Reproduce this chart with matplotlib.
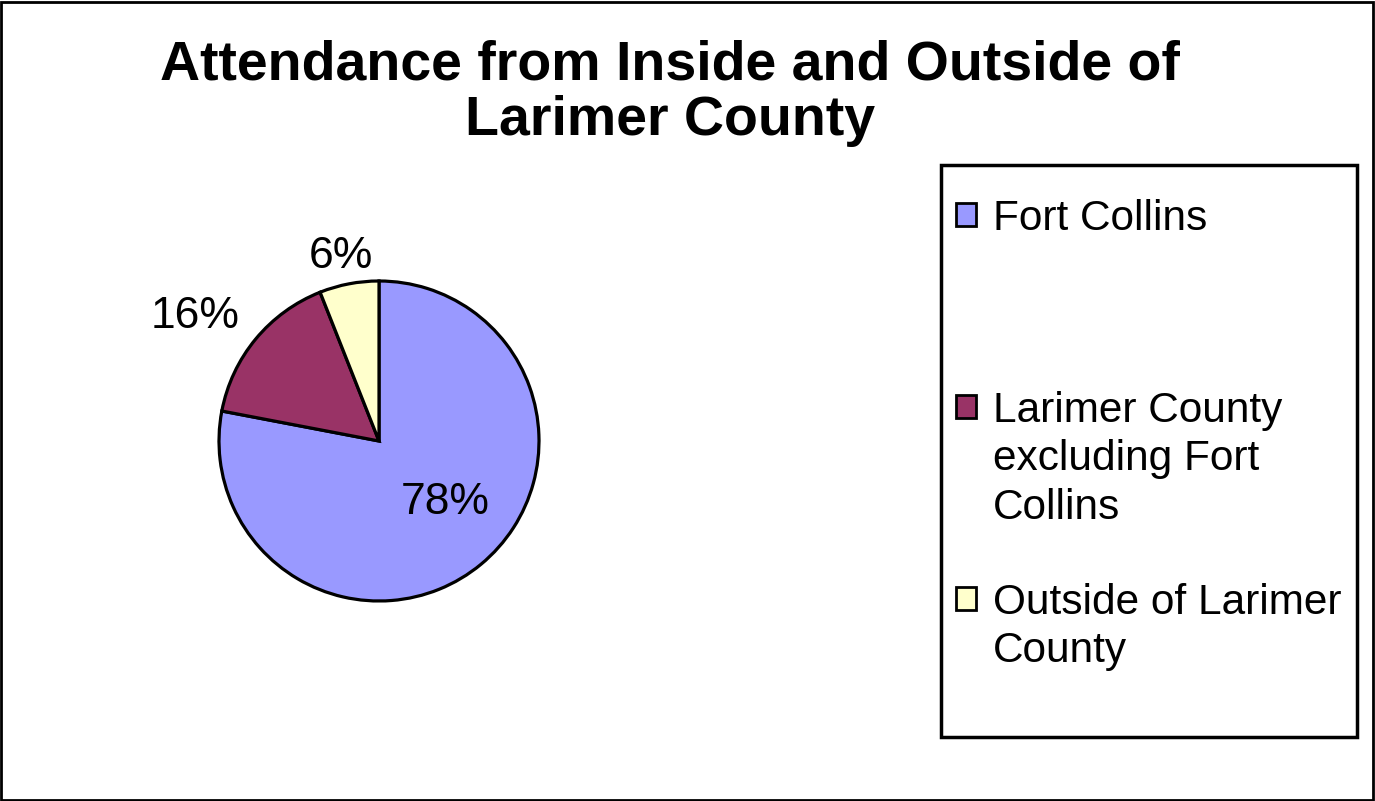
import numpy as np
import matplotlib.pyplot as plt
from matplotlib.patches import Rectangle

plt.rcParams['font.family'] = ['Liberation Sans', 'DejaVu Sans']

title = "Attendance from Inside and Outside of\nLarimer County"
categories = ["Fort Collins",
              "Larimer County\nexcluding Fort\nCollins",
              "Outside of Larimer\nCounty"]
shares = [78, 16, 6]
colors = ['#9999FF', '#993366', '#FFFFCC']

W, H = 1375, 801
fig = plt.figure(figsize=(W / 100, H / 100), dpi=100)
ax = fig.add_axes([0, 0, 1, 1])
ax.set_xlim(0, W)
ax.set_ylim(0, H)
ax.set_aspect('equal')
ax.axis('off')

# outer frame
ax.add_patch(Rectangle((1, 1), W - 3, H - 3, fill=False, lw=2, ec='black'))

cx, cy, r = 379, H - 441, 160
wedges, _ = ax.pie(shares, colors=colors, startangle=90, counterclock=False,
                   center=(cx, cy), radius=r,
                   wedgeprops=dict(edgecolor='black', linewidth=2.3))
ax.set_xlim(0, W)
ax.set_ylim(0, H)

# percentage labels (Excel-style placement)
label_pos = [(445, 503), (195, 317), (341, 256)]
for s, (lx, ly) in zip(shares, label_pos):
    ax.text(lx, H - ly, f"{s}%", fontsize=32, ha='center', va='center')

ax.text(670, H - 93, title, fontsize=40, fontweight='bold', ha='center',
        va='center', linespacing=1.1)

# legend box
ax.add_patch(Rectangle((941, H - 737), 416, 572, fill=False, lw=2.5, ec='black'))
text_top = [203, 395, 587]
for lab, col, ty in zip(categories, colors, text_top):
    ax.add_patch(Rectangle((956, H - ty - 23), 20, 23, fc=col, ec='black', lw=2))
    ax.text(993, H - ty + 4, lab, fontsize=30.5, ha='left', va='top',
            linespacing=1.27)

fig.savefig('out.png', dpi=100)
